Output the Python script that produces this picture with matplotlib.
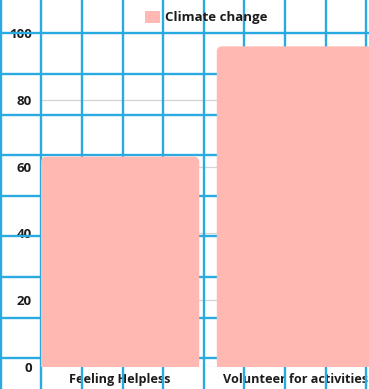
import numpy as np
import matplotlib
matplotlib.use("Agg")
import matplotlib.pyplot as plt
from matplotlib.lines import Line2D
from matplotlib.patches import FancyBboxPatch, Patch

# Survey results
categories = ["Feeling Helpless", "Volunteer for activities"]
values = [63, 96]
series_name = "Climate change"
y_ticks = [0, 20, 40, 60, 80, 100]

BAR_COLOR = "#FFB8B2"
GRID_BLUE = "#29AAE1"
TEXT_COLOR = "#1c1c1c"
FONT = ["Open Sans", "DejaVu Sans"]
FSIZE = 9.5

W, H, DPI = 369, 389, 100
fig = plt.figure(figsize=(W / DPI, H / DPI), dpi=DPI, facecolor="white")

# axes area in pixels: left 41 .. right 375 (runs past the edge), top 33 .. bottom 367
ax_l, ax_r, ax_t, ax_b = 41, 375, 33, 367
ax = fig.add_axes([ax_l / W, (H - ax_b) / H, (ax_r - ax_l) / W, (ax_b - ax_t) / H])
ax.set_facecolor("none")

ax.set_xlim(-0.45, 1.45)
ax.set_ylim(0, 100)
for s in ax.spines.values():
    s.set_visible(False)

# light horizontal gridlines
ax.set_yticks(y_ticks)
ax.yaxis.grid(True, color="#d4d4d4", linewidth=0.9)
ax.set_axisbelow(True)
ax.tick_params(axis="both", length=0, colors=TEXT_COLOR)
ax.tick_params(axis="y", pad=6.5)
ax.tick_params(axis="x", pad=4)
for lbl in ax.get_yticklabels():
    lbl.set_fontfamily(FONT)
    lbl.set_fontweight("bold")
    lbl.set_fontsize(FSIZE)

# bars with rounded top corners
x = np.arange(len(categories))
bar_w = 0.9
bars = ax.bar(x, values, width=bar_w, color=BAR_COLOR, linewidth=0, zorder=10)
ax.set_xticks(x)
ax.set_xticklabels(categories, fontfamily=FONT, fontweight="bold", fontsize=9.1,
                   color=TEXT_COLOR)

px_x = (ax_r - ax_l) / (ax.get_xlim()[1] - ax.get_xlim()[0])  # px per x unit
px_y = (ax_b - ax_t) / 100.0                                   # px per y unit
radius_px = 5.5
r_x = radius_px / px_x
r_y = radius_px / px_y
for b in bars:
    bx, by, bw, bh = b.get_x(), b.get_y(), b.get_width(), b.get_height()
    top = FancyBboxPatch((bx, by), bw, bh,
                         boxstyle=f"round,pad=0,rounding_size={r_x}",
                         mutation_aspect=r_y / r_x,
                         facecolor=BAR_COLOR, edgecolor="none", zorder=10)
    ax.add_patch(top)
    b.set_height(bh - 2 * r_y)

# blue squared paper pattern: above labels, beneath the bars
step = 40.6
for px in np.arange(0.8, W + step, step):
    ax.add_line(Line2D([px / W, px / W], [0, 1], transform=fig.transFigure,
                       color=GRID_BLUE, linewidth=1.7, clip_on=False, zorder=8))
for py in np.arange(33.3 - step, H + step, step):
    yf = (H - py) / H
    ax.add_line(Line2D([0, 1], [yf, yf], transform=fig.transFigure,
                       color=GRID_BLUE, linewidth=1.7, clip_on=False, zorder=8))

# legend above the plot
handle = Patch(facecolor=BAR_COLOR, edgecolor="none", label=series_name)
leg = fig.legend(handles=[handle], loc="center", bbox_to_anchor=(206 / W, (H - 17.5) / H),
                 frameon=False, prop={"family": FONT, "weight": "bold", "size": FSIZE},
                 handlelength=1.15, handleheight=1.0, handletextpad=0.4,
                 borderpad=0, borderaxespad=0)
for t in leg.get_texts():
    t.set_color(TEXT_COLOR)
leg.set_zorder(5)

fig.savefig("out.png", dpi=DPI, facecolor="white")
